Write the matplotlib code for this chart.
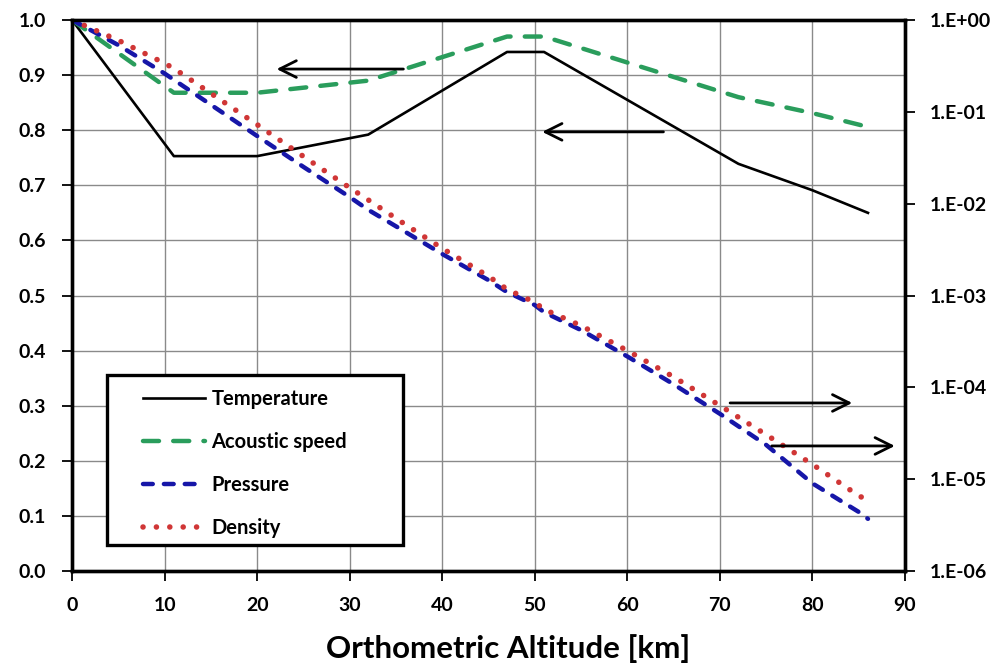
import math
import matplotlib
matplotlib.use("Agg")
import matplotlib.pyplot as plt
from matplotlib.patches import Rectangle
from matplotlib.ticker import FixedLocator, FuncFormatter, NullLocator

plt.rcParams['font.family'] = ['Lato', 'DejaVu Sans']
plt.rcParams['font.weight'] = 'bold'

# temperature and acoustic speed ratios (left axis)
alt_t = [0, 11, 20, 32, 47, 51, 72, 80, 86]
temperature = [1.0, 0.753, 0.753, 0.792, 0.942, 0.942, 0.739, 0.691, 0.650]
acoustic = [1.0, 0.868, 0.868, 0.890, 0.970, 0.970, 0.860, 0.831, 0.806]

# pressure and density ratios (right axis, log)
alt_p = [0, 5, 10, 11, 15, 20, 25, 30, 32, 35, 40, 45, 47, 50, 51,
         55, 60, 65, 70, 75, 80, 85, 86]
pressure = [1.0, 0.5334, 0.2615, 0.2234, 0.1195, 0.05457, 0.02516, 0.01181,
            0.00857, 0.00567, 0.00283, 0.00147, 0.00109, 0.000787, 0.000658,
            0.000420, 0.000217, 0.000108, 5.15e-5, 2.36e-5, 9.0e-6, 4.4e-6,
            3.7e-6]
density = [1.0, 0.6012, 0.3376, 0.2971, 0.1590, 0.0726, 0.0327, 0.0149,
           0.0110, 0.00692, 0.00326, 0.00162, 0.00117, 0.000842, 0.000707,
           0.000470, 0.000251, 0.000130, 6.33e-5, 3.05e-5, 1.45e-5, 6.6e-6,
           5.9e-6]

# annotation arrows: (x_start, x_end, y) in left-axis units
arrows = [(36.1, 21.8, 0.911), (64.2, 50.5, 0.797),
          (70.8, 84.6, 0.305), (75.3, 89.2, 0.227)]

fig = plt.figure(figsize=(10.02, 6.67), dpi=100)
ax = fig.add_axes([0.0719, 0.1439, 0.8313, 0.8261])
ax2 = ax.twinx()

ax.set_xlim(0, 90)
ax.set_ylim(0, 1.0)
ax.xaxis.set_major_locator(FixedLocator(range(0, 91, 10)))
ax.yaxis.set_major_locator(FixedLocator([i / 10 for i in range(11)]))
ax.yaxis.set_major_formatter(FuncFormatter(lambda v, p: f"{v:.1f}"))
ax.grid(True, color='#8a8a8a', lw=1.0)
ax.set_axisbelow(True)

ax.plot(alt_t, temperature, color='black', lw=1.9, label='Temperature', zorder=3)
ax.plot(alt_t, acoustic, color='#2a9d5c', lw=3.2, dashes=(3.6, 3.2),
        dash_capstyle='round', label='Acoustic speed', zorder=3)

ax2.set_yscale('log')
ax2.set_ylim(1e-6, 1.0)
ax2.yaxis.set_major_locator(FixedLocator([10.0 ** k for k in range(-6, 1)]))
ax2.yaxis.set_minor_locator(NullLocator())
ax2.yaxis.set_major_formatter(FuncFormatter(
    lambda v, p: "1.E%+03d" % round(math.log10(v))))

ax2.plot(alt_p, pressure, color='#1616a8', lw=3.2, dashes=(2.2, 2.5),
         dash_capstyle='round', label='Pressure', zorder=2)
ax2.plot(alt_p, density, color='#d03636', lw=4.0, dashes=(0.01, 2.4),
         dash_capstyle='round', label='Density', zorder=2)

for x0, x1, y in arrows:
    ax2.annotate('', xy=(x1, y), xytext=(x0, y),
                 xycoords=ax.transData, textcoords=ax.transData,
                 arrowprops=dict(arrowstyle='->,head_length=1.2,head_width=0.6',
                                 color='black', lw=2.0))

for a in (ax, ax2):
    for s in a.spines.values():
        s.set_linewidth(2.4)
        s.set_color('black')

ax.tick_params(axis='both', which='major', direction='out', length=7,
               width=1.3, labelsize=14, colors='black')
ax.tick_params(axis='y', pad=12)
ax.tick_params(axis='x', pad=12)
ax2.tick_params(axis='y', which='major', direction='out', length=7,
                width=1.3, labelsize=14, pad=11)

ax.set_xlabel('Orthometric Altitude [km]', fontsize=22.5, fontweight='bold')
ax.xaxis.set_label_coords(0.523, -0.14)
ax.xaxis.label.set_va('center')

# legend box drawn by hand so the padding matches
ax2.add_patch(Rectangle((0.042, 0.047), 0.355, 0.309, transform=ax2.transAxes,
                        facecolor='white', edgecolor='black', lw=2.4, zorder=6))
handles = ax.get_lines() + ax2.get_lines()
leg = ax2.legend(handles, [h.get_label() for h in handles], loc='upper left',
                 bbox_to_anchor=(0.085, 0.331), frameon=False, fontsize=14.5,
                 handlelength=3.1, handletextpad=0.3, labelspacing=1.15,
                 borderpad=0, borderaxespad=0)
leg.set_zorder(7)

fig.savefig('out.png', dpi=100)
